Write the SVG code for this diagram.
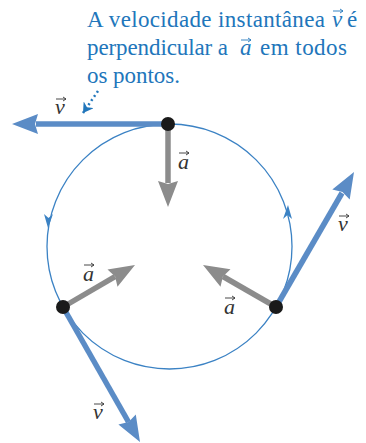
<svg xmlns="http://www.w3.org/2000/svg" width="366" height="443" viewBox="0 0 366 443">
<defs>
<style>
.cap{font-family:'Liberation Serif','Times New Roman',serif;font-size:23px;fill:#2176bb}
.lbl{font-family:'Liberation Serif','Times New Roman',serif;font-size:22px;font-style:italic;fill:#333}
.vec{stroke:#5b8cc6;stroke-width:5.5;fill:none}
.vech{fill:#5b8cc6}
.acc{stroke:#8c8c8c;stroke-width:5.5;fill:none}
.acch{fill:#8c8c8c}
.ov{stroke:#333;stroke-width:0.9;fill:none}
.ovc{stroke:#2176bb;stroke-width:0.9;fill:none}
</style>
<marker id="hd" markerUnits="userSpaceOnUse" markerWidth="12" markerHeight="12" refX="10" refY="6" orient="auto"><path d="M0,0 L10,6 L0,12 L3,6 Z" fill="#2176bb"/></marker>
</defs>
<g id="caption">
<text class="cap" x="87" y="27" textLength="238" lengthAdjust="spacing">A velocidade instantânea</text>
<text class="cap" x="332" y="27" font-style="italic">v</text>
<text class="cap" x="347" y="27">é</text>
<text class="cap" x="87" y="55" textLength="141" lengthAdjust="spacing">perpendicular a</text>
<text class="cap" x="240" y="55" font-style="italic">a</text>
<text class="cap" x="260" y="55" textLength="87" lengthAdjust="spacing">em todos</text>
<text class="cap" x="87" y="83" textLength="93" lengthAdjust="spacing">os pontos.</text>
<path class="ovc" d="M333,11 h10 M340,9 l3,2 l-3,2"/>
<path class="ovc" d="M241,40 h10 M248,38 l3,2 l-3,2"/>
</g>
<g id="circle">
<circle cx="169.5" cy="246.5" r="122.5" fill="none" stroke="#3b82c4" stroke-width="1.3"/>
<path d="M44,214 L48,228 L53,214 L48.5,218 Z" fill="#3b82c4"/>
<path d="M283,219 L288,205 L292,219 L287.5,215 Z" fill="#3b82c4"/>
</g>
<g id="connectors">
<path class="vec" d="M168,124 L36,124"/>
<polygon class="vech" points="12,124 38,134 35,124 38,114"/>
<path class="acc" d="M168,124 L168,183"/>
<polygon class="acch" points="168,207 178,181 168,184 158,181"/>
<path class="vec" d="M276,307 L342,193"/>
<polygon class="vech" points="354,172 349.7,199.5 342.5,191.9 332.3,189.5"/>
<path class="acc" d="M276,307 L223,276.5"/>
<polygon class="acch" points="203,265 230.5,269.3 222.9,276.5 220.5,286.7"/>
<path class="vec" d="M63,307 L128.5,422"/>
<polygon class="vech" points="140,442 118.4,424.4 128.6,422 135.8,414.4"/>
<path class="acc" d="M63,307 L115,276.6"/>
<polygon class="acch" points="135,265 117.5,286.7 115.1,276.6 107.5,269.5"/>
<path d="M98,91 L83,113" stroke="#2176bb" stroke-width="2.5" stroke-dasharray="2,3" fill="none" marker-end="url(#hd)"/>
</g>
<g id="point-top"><circle cx="168" cy="124" r="7" fill="#1a1a1a"/></g>
<g id="point-left"><circle cx="63" cy="307" r="7" fill="#1a1a1a"/></g>
<g id="point-right"><circle cx="276" cy="307" r="7" fill="#1a1a1a"/></g>
<g id="labels">
<text class="lbl" x="55" y="114">v</text>
<path class="ov" d="M56,99 h10 M63,97 l3,2 l-3,2"/>
<text class="lbl" x="178" y="169">a</text>
<path class="ov" d="M179,153 h10 M186,151 l3,2 l-3,2"/>
<text class="lbl" x="338" y="231">v</text>
<path class="ov" d="M339,216 h10 M346,214 l3,2 l-3,2"/>
<text class="lbl" x="224" y="314">a</text>
<path class="ov" d="M225,298 h10 M232,296 l3,2 l-3,2"/>
<text class="lbl" x="83" y="281">a</text>
<path class="ov" d="M84,265 h10 M91,263 l3,2 l-3,2"/>
<text class="lbl" x="93" y="419">v</text>
<path class="ov" d="M94,404 h10 M101,402 l3,2 l-3,2"/>
</g>
</svg>
